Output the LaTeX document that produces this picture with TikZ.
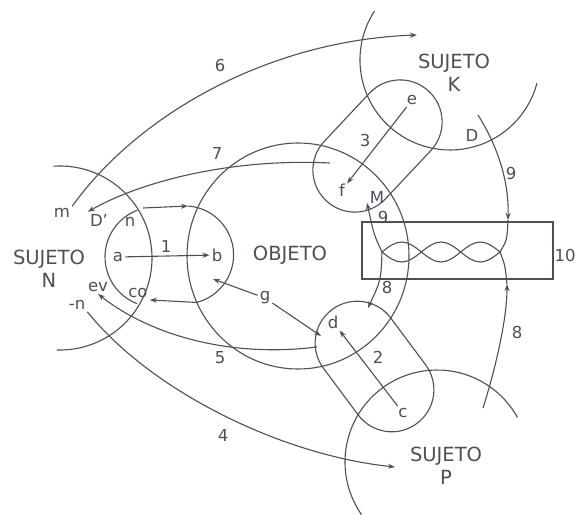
\documentclass[tikz,border=0pt]{standalone}
\usepackage{fontspec}
\setmainfont{DejaVu Sans}
\usetikzlibrary{arrows.meta}
\definecolor{ink}{HTML}{4E4E58}
\tikzset{
    stroke/.style={draw=ink, line width=1.1pt},
    arrow/.style={stroke, -{Stealth[length=7pt, width=5pt]}},
    tag/.style={text=ink, font=\fontsize{16.5}{16.5}\selectfont, inner sep=2pt},
    subject/.style={text=ink, font=\fontsize{19.5}{23}\selectfont, align=center},
    capsule/.style={stroke, rectangle, rounded corners=41.9pt, minimum height=84pt}
}

\begin{document}
\begin{tikzpicture}[x=1pt, y=-1pt]
\useasboundingbox (0,0) rectangle (577,514);

% subjects and object
\draw[stroke] (60,258) ++(-94:92) arc[start angle=-94, end angle=92, radius=92];
\draw[stroke] (450,60) ++(-147:90) arc[start angle=-147, end angle=-345, radius=90];
\draw[stroke] (437,462) ++(-215:92) arc[start angle=-215, end angle=-29, radius=92];
\draw[stroke] (155,257) ++(-111:50) arc[start angle=-111, end angle=-249, radius=50];
\draw[stroke] (298,256) ellipse[x radius=111, y radius=113];

\node[subject] (sujN) at (49,269) {SUJETO\\N};
\node[subject] (sujK) at (454,73) {SUJETO\\K};
\node[subject] (sujP) at (446,466) {SUJETO\\P};
\node[subject] (obj) at (290,255) {OBJETO};

% capsules
\node[capsule, minimum width=150pt, rotate=46.8] (capK) at (377.5,146) {};
\node[capsule, minimum width=142pt, rotate=-53.3] (capP) at (374.5,366.5) {};

% box with the twisted threads
\draw[stroke] (362,222) rectangle (553,279);
\coordinate (w1) at (382,252);
\coordinate (w2) at (500,252);
\draw[stroke] (w1) sin (401.67,242) cos (421.33,252) sin (441,262) cos (460.67,252) sin (480.33,242) cos (w2);
\draw[stroke] (w1) sin (401.67,262) cos (421.33,252) sin (441,242) cos (460.67,252) sin (480.33,262) cos (w2);

% labels
\node[tag] (a) at (118,257) {a};
\node[tag] (b) at (217,255) {b};
\node[tag] (n) at (130,222) {n};
\node[tag] (co) at (138,293) {co};
\node[tag] (ev) at (98,287) {ev};
\node[tag] (mn) at (77,305) {-n};
\node[tag] (Dp) at (99,220) {D'};
\node[tag] (m) at (62,213) {m};
\node[tag] (e) at (412,100) {e};
\node[tag] (f) at (342,190) {f};
\node[tag] (M) at (377,197) {M};
\node[tag] (D) at (472,135) {D};
\node[tag] (d) at (333,322) {d};
\node[tag] (c) at (403,413) {c};
\node[tag] (g) at (265,298) {g};
\node[tag] (l1) at (166,246) {1};
\node[tag] (l2) at (378,357) {2};
\node[tag] (l3) at (365,140) {3};
\node[tag] (l4) at (223,435) {4};
\node[tag] (l5) at (220,358) {5};
\node[tag] (l6) at (220,65) {6};
\node[tag] (l7) at (217,153) {7};
\node[tag] (l8a) at (387,287) {8};
\node[tag] (l8b) at (517,332) {8};
\node[tag] (l9a) at (383,217) {9};
\node[tag] (l9b) at (511,173) {9};
\node[tag, inner sep=0pt] (l10) at (565,255) {10};

% free ends
\coordinate (nA) at (143,208);
\coordinate (bT) at (188,206);
\coordinate (k6) at (417,35);
\coordinate (s7) at (330,163);
\coordinate (p4) at (395,467);
\coordinate (s5) at (317,347);
\coordinate (g1) at (213,279);
\coordinate (g2) at (321,336);
\coordinate (k9) at (478,115);
\coordinate (t9) at (508,220);
\coordinate (p8) at (483,408);
\coordinate (t8) at (507,284);
\coordinate (m9) at (367,203);
\coordinate (d8) at (368,308);

% arrows
\draw[arrow] (a) -- (b);
\draw[arrow] (e) -- (f);
\draw[arrow] (c) -- (d);
\draw[arrow] (nA) -- (bT);
\draw[arrow] (bT) arc[start angle=-86, end angle=76, radius=49] -- (co.south east);
\draw[arrow] (m.north east) .. controls (140,112) and (272,40) .. (k6);
\draw[arrow] (s7) .. controls (230,158) and (140,182) .. (Dp.north west);
\draw[arrow] (mn.south east) .. controls (150,390) and (280,455) .. (p4);
\draw[arrow] (s5) .. controls (230,358) and (150,335) .. (ev.south);
\draw[arrow] (g) -- (g1);
\draw[arrow] (g) -- (g2);
\draw[arrow] (k9) .. controls (500,150) and (509,185) .. (t9);
\draw[stroke] (t9) .. controls (507,240) .. (w2);
\draw[arrow] (p8) .. controls (495,370) and (507,320) .. (t8);
\draw[stroke] (t8) .. controls (505,265) .. (w2);
\draw[arrow] (w1) .. controls (374,235) .. (m9);
\draw[arrow] (w1) .. controls (381,280) .. (d8);
\end{tikzpicture}
\end{document}
